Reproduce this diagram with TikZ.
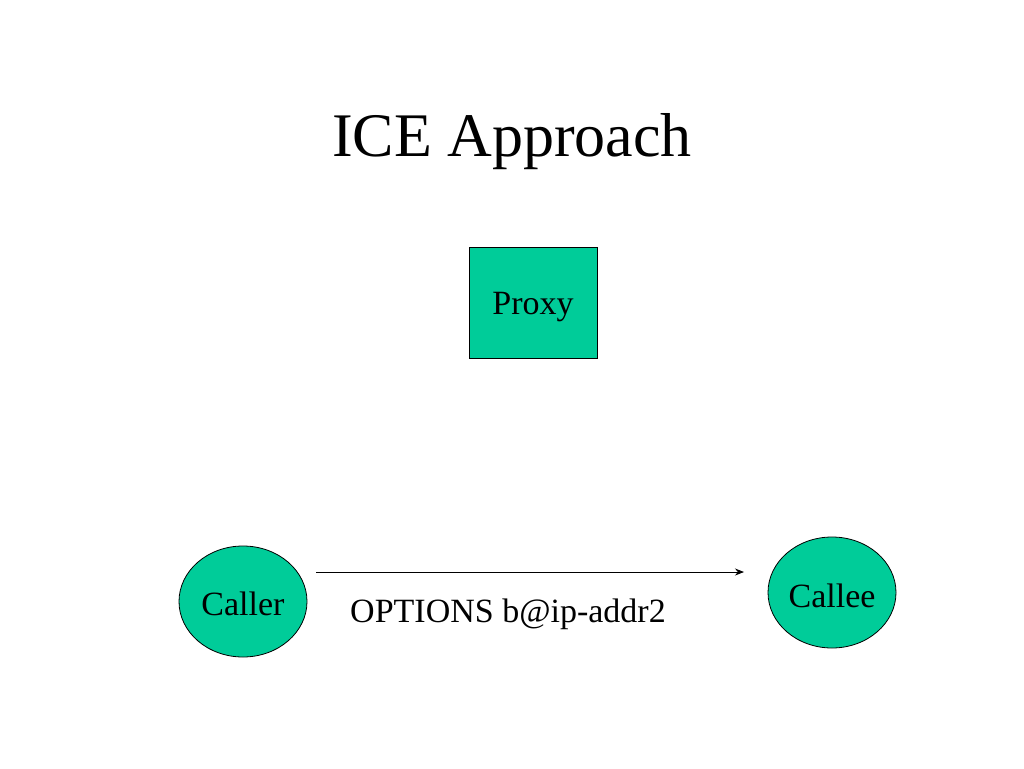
\documentclass[tikz,border=0pt]{standalone}
\usepackage{fontspec}
\setmainfont{Liberation Serif}
\usetikzlibrary{shapes.geometric,arrows.meta}
\definecolor{boxgreen}{HTML}{00CC99}
\begin{document}
\begin{tikzpicture}[x=1pt,y=-1pt,
  greenfill/.style={fill=boxgreen,draw=black,line width=0.8pt,inner sep=0pt},
  oval/.style={greenfill,ellipse,minimum width=128pt,minimum height=111pt},
  lbl/.style={font=\fontsize{34}{40}\selectfont,inner sep=0pt}]
\useasboundingbox (0,0) rectangle (1024,768);
\fill[white] (0,0) rectangle (1024,768);
\node[font=\fontsize{62}{70}\selectfont,inner sep=0pt] (title) at (512,142) {ICE Approach};
\node[greenfill,rectangle,minimum width=128pt,minimum height=111pt] (proxy) at (533,302.5) {};
\node[lbl] (proxylbl) at (533,307) {Proxy};
\node[oval] (caller) at (243,601.5) {};
\node[lbl] (callerlbl) at (243,604) {Caller};
\node[oval] (callee) at (832,592.5) {};
\node[lbl] (calleelbl) at (832,596) {Callee};
\coordinate (a1) at (316,572);
\coordinate (a2) at (744,572);
\draw[line width=1pt,-{Stealth[length=9pt,width=7pt]}] (a1) -- (a2);
\node[lbl] (msg) at (508,614) {OPTIONS b@ip-addr2};
\end{tikzpicture}
\end{document}
